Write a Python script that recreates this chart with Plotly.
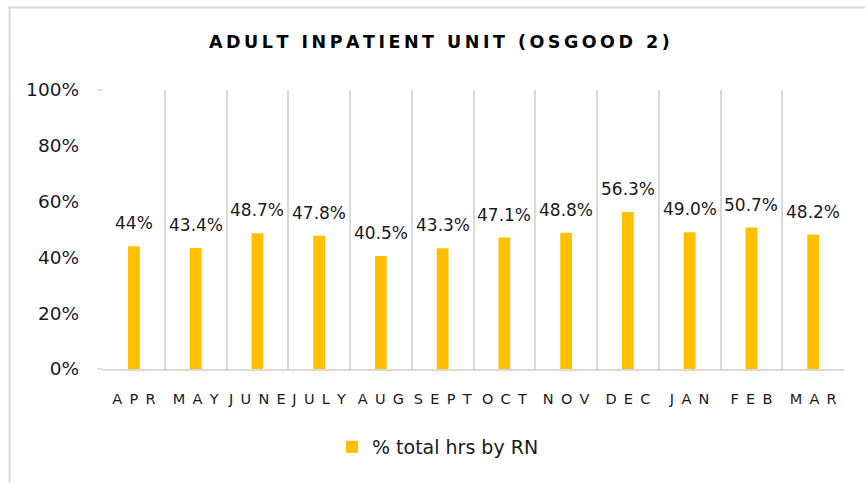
import plotly.graph_objects as go

categories = ["APR", "MAY", "JUNE", "JULY", "AUG", "SEPT", "OCT", "NOV", "DEC", "JAN", "FEB", "MAR"]
values = [44.0, 43.4, 48.7, 47.8, 40.5, 43.3, 47.1, 48.8, 56.3, 49.0, 50.7, 48.2]
value_labels = ["44%", "43.4%", "48.7%", "47.8%", "40.5%", "43.3%", "47.1%", "48.8%", "56.3%", "49.0%", "50.7%", "48.2%"]
series_name = "% total hrs by RN"
title_text = "ADULT INPATIENT UNIT (OSGOOD 2)"
y_ticks = [0, 20, 40, 60, 80, 100]
y_ticklabels = ["0%", "20%", "40%", "60%", "80%", "100%"]

FONT = "DejaVu Sans"
TXT = "#1a1a1a"
GRID = "#d9d9d9"
BAR = "#FFC000"

W, H = 865, 483
ML, MR, MT, MB = 103, 21, 90, 114
PW, PH = W - ML - MR, H - MT - MB

def spaced(s, sp):
    return sp.join(list(s))

fig = go.Figure()
fig.add_trace(go.Bar(
    x=categories, y=values, name=series_name,
    marker=dict(color=BAR, line=dict(width=0)),
    showlegend=True,
))

for c, v, t in zip(categories, values, value_labels):
    fig.add_annotation(x=c, y=v, text=t, showarrow=False, yanchor="bottom",
                       yshift=11, font=dict(family=FONT, size=17, color=TXT))

def px_x(p):
    return (p - ML) / PW

def px_y(p):
    return (H - MB - p) / PH

shapes = [
    dict(type="line", xref="paper", yref="paper", x0=px_x(8), x1=px_x(866), y0=px_y(7.5), y1=px_y(7.5),
         line=dict(color=GRID, width=2)),
    dict(type="line", xref="paper", yref="paper", x0=px_x(9.5), x1=px_x(9.5), y0=px_y(6.5), y1=px_y(490),
         line=dict(color=GRID, width=2)),
    dict(type="line", xref="paper", yref="paper", x0=px_x(97), x1=0, y0=1, y1=1,
         line=dict(color=GRID, width=1.5)),
    dict(type="line", xref="paper", yref="paper", x0=px_x(97), x1=0, y0=0, y1=0,
         line=dict(color=GRID, width=1.5)),
]

fig.update_layout(
    width=W, height=H,
    margin=dict(l=ML, r=MR, t=MT, b=MB),
    paper_bgcolor="white", plot_bgcolor="white",
    bargap=0.81,
    shapes=shapes,
    title=dict(text=spaced(title_text, "\u2009"), x=0.508, xanchor="center", xref="container",
               y=1 - 41.5 / H, yanchor="middle",
               font=dict(family=FONT, size=17.5, color="black", weight="bold")),
    xaxis=dict(
        type="category", range=[-0.5, len(categories) - 0.5],
        tickmode="array", tickvals=categories,
        ticktext=[spaced(c, "\u2002") for c in categories],
        tickson="boundaries", ticks="", tickangle=0, automargin=False,
        showgrid=True, gridcolor=GRID, gridwidth=1.5,
        showline=True, linecolor=GRID, linewidth=1.5,
        tickfont=dict(family=FONT, size=14.5, color=TXT),
        ticklabelstandoff=16,
    ),
    yaxis=dict(
        range=[0, 100], tickmode="array", tickvals=y_ticks, ticktext=y_ticklabels,
        showgrid=False, zeroline=False, showline=False, ticks="", automargin=False,
        tickfont=dict(family=FONT, size=18.5, color=TXT),
        ticklabelstandoff=23,
    ),
    legend=dict(orientation="h", x=px_x(438), xanchor="center", y=px_y(447), yanchor="middle",
                font=dict(family=FONT, size=19, color=TXT), bgcolor="rgba(0,0,0,0)"),
)

fig.write_html("out.html", config={"displayModeBar": False},
               post_script="document.body.style.margin='0';")
